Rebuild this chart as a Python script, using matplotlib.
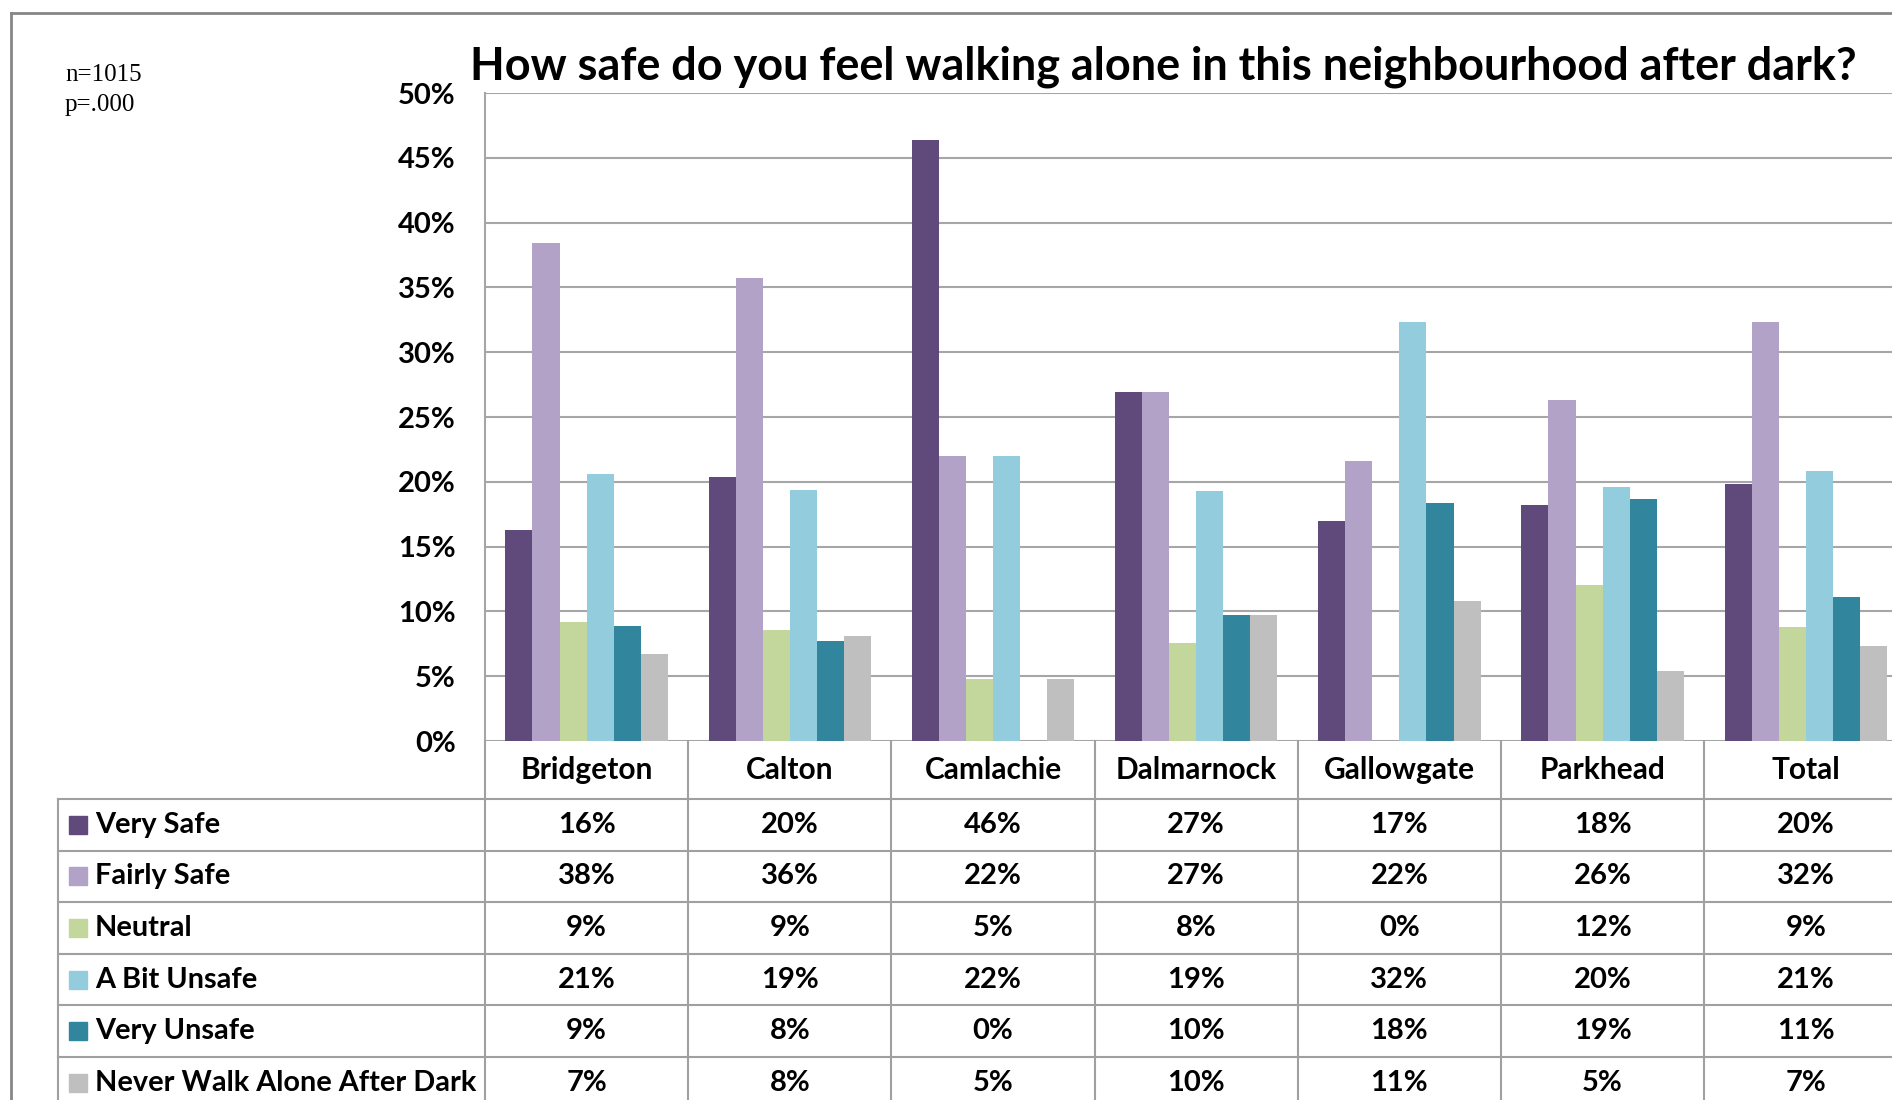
import numpy as np
import matplotlib
matplotlib.use('Agg')
import matplotlib.pyplot as plt
import matplotlib.transforms as mtransforms
from matplotlib.lines import Line2D
from matplotlib.patches import Rectangle

# survey results, percent of respondents per area
areas = ['Bridgeton', 'Calton', 'Camlachie', 'Dalmarnock', 'Gallowgate', 'Parkhead', 'Total']
responses = ['Very Safe', 'Fairly Safe', 'Neutral', 'A Bit Unsafe', 'Very Unsafe', 'Never Walk Alone After Dark']
very_safe = [16.3, 20.4, 46.4, 26.9, 17.0, 18.2, 19.8]
fairly_safe = [38.4, 35.7, 22.0, 26.9, 21.6, 26.3, 32.3]
neutral = [9.2, 8.6, 4.8, 7.6, 0.0, 12.0, 8.8]
bit_unsafe = [20.6, 19.4, 22.0, 19.3, 32.3, 19.6, 20.8]
very_unsafe = [8.9, 7.7, 0.0, 9.7, 18.4, 18.7, 11.1]
never_alone = [6.7, 8.1, 4.8, 9.7, 10.8, 5.4, 7.3]
series = [very_safe, fairly_safe, neutral, bit_unsafe, very_unsafe, never_alone]
colors = ['#604A7B', '#B3A2C7', '#C3D69B', '#93CDDD', '#31859C', '#BFBFBF']
y_ticks = [0, 5, 10, 15, 20, 25, 30, 35, 40, 45, 50]

plt.rcParams['font.family'] = ['Lato', 'DejaVu Sans']
W, H = 1892, 1100
fig = plt.figure(figsize=(W / 100, H / 100), dpi=100)

def fx(px):
    return px / W

def fy(py):
    return 1 - py / H

# plot area in pixels (right edge runs past the figure)
left, top, base, col_w = 485, 93, 741, 203.2
ax = fig.add_axes([fx(left), fy(base), fx(col_w * len(areas)), (base - top) / H])
ax.set_xlim(-0.5, len(areas) - 0.5)
ax.set_ylim(0, 50)

n = len(series)
bw = 1 / (n + 1.5)
x = np.arange(len(areas))
for i, (vals, c) in enumerate(zip(series, colors)):
    ax.bar(x + (i - (n - 1) / 2) * bw, vals, width=bw, color=c, zorder=3)

grid_c = '#A6A6A6'
fs = 21
ax.set_yticks(y_ticks)
ax.set_yticklabels([f'{t}%' for t in y_ticks], fontsize=fs, fontweight='bold')
ax.tick_params(axis='y', length=0, pad=21)
ax.set_xticks([])
ax.yaxis.grid(True, color=grid_c, lw=1.5, zorder=0)
for s in ['top', 'right', 'bottom']:
    ax.spines[s].set_visible(False)
ax.spines['left'].set_color(grid_c)
ax.spines['left'].set_linewidth(1.5)

fig.text(fx(470), fy(79), 'How safe do you feel walking alone in this neighbourhood after dark?',
         fontsize=32.4, fontweight='bold', ha='left', va='baseline')
fig.text(fx(65), fy(75), 'n=1015', family='Liberation Serif', fontsize=18, va='center')
fig.text(fx(65), fy(105), 'p=.000', family='Liberation Serif', fontsize=18, va='center')

# data table under the chart, columns tied to the bar positions
tr = mtransforms.blended_transform_factory(ax.transData, fig.transFigure)
line_c = '#A0A0A0'
row_top, row_h = 799, 51.6
leg_left = 58
for k in range(len(areas) + 1):
    fig.add_artist(Line2D([k - 0.5, k - 0.5], [fy(base), 0], transform=tr, color=line_c, lw=1.5))
for r in range(len(responses) + 1):
    yy = fy(row_top + r * row_h)
    fig.add_artist(Line2D([fx(leg_left), 1], [yy, yy], transform=fig.transFigure, color=line_c, lw=1.5))
fig.add_artist(Line2D([fx(leg_left)] * 2, [fy(row_top), 0], transform=fig.transFigure, color=line_c, lw=1.5))

for k, a in enumerate(areas):
    fig.text(k, fy((base + row_top) / 2), a, transform=tr, ha='center', va='center',
             fontsize=21.5, fontweight='bold')
for r, (name, vals, c) in enumerate(zip(responses, series, colors)):
    yc = fy(row_top + (r + 0.5) * row_h)
    fig.add_artist(Rectangle((fx(69), yc - 9 / H), 18 / W, 18 / H, transform=fig.transFigure,
                             color=c))
    fig.text(fx(95), yc, name, ha='left', va='center', fontsize=20.8, fontweight='bold')
    for k, v in enumerate(vals):
        fig.text(k, yc, f'{v:.0f}%', transform=tr, ha='center', va='center',
                 fontsize=fs, fontweight='bold')

# outer frame of the chart
frame_c = '#868686'
fig.add_artist(Line2D([fx(11), fx(11)], [0, fy(13)], transform=fig.transFigure, color=frame_c, lw=2))
fig.add_artist(Line2D([fx(11), 1], [fy(13), fy(13)], transform=fig.transFigure, color=frame_c, lw=2))

fig.savefig('out.png', dpi=100, facecolor='white')
